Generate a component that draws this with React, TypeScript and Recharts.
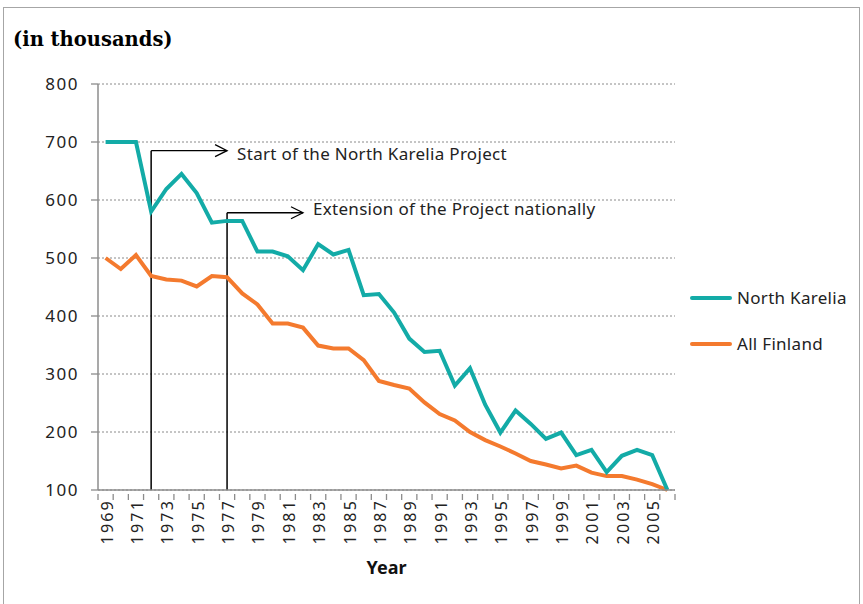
import React from 'react';
import {
  LineChart,
  Line,
  XAxis,
  YAxis,
  CartesianGrid,
  ReferenceLine,
} from 'recharts';

// years on the category axis
const years = [
  1969, 1970, 1971, 1972, 1973, 1974, 1975, 1976, 1977, 1978, 1979, 1980, 1981,
  1982, 1983, 1984, 1985, 1986, 1987, 1988, 1989, 1990, 1991, 1992, 1993, 1994,
  1995, 1996, 1997, 1998, 1999, 2000, 2001, 2002, 2003, 2004, 2005, 2006,
];

const northKarelia = [
  700, 700, 700, 580, 619, 645, 612, 561, 564, 564, 511, 511, 503, 479, 524,
  506, 514, 436, 438, 406, 361, 338, 340, 280, 310, 247, 199, 237, 214, 188,
  199, 160, 169, 131, 159, 169, 160, 100,
];

const allFinland = [
  500, 481, 505, 469, 463, 461, 451, 469, 467, 439, 420, 387, 387, 380, 349,
  344, 344, 324, 288, 281, 275, 251, 231, 220, 200, 186, 175, 163, 150, 144,
  137, 142, 130, 124, 124, 118, 110, 100,
];

const yTicks = [100, 200, 300, 400, 500, 600, 700, 800];

// annotation arrows: start year, end year, height, text
const startNK = { from: 1972, to: 1977, y: 685, text: 'Start of the North Karelia Project', dy: 3 };
const nationwide = { from: 1977, to: 1982, y: 578, text: 'Extension of the Project nationally', dy: -4 };

const data = years.map((year, i) => ({
  year,
  nk: northKarelia[i],
  fin: allFinland[i],
}));

const TEAL = '#13aba7';
const ORANGE = '#f47a2e';
const AXIS = '#8c8c8c';
const FONT = '"Noto Sans", "Open Sans", sans-serif';

const PLOT_LEFT = 98;
const PLOT_RIGHT = 675;
const HALF_BAND = (PLOT_RIGHT - PLOT_LEFT) / years.length / 2;

const YearTick = (props: any) => {
  const { x, y, payload, index } = props;
  const last = index === years.length - 1;
  return (
    <g>
      <line x1={x - HALF_BAND} x2={x - HALF_BAND} y1={y - 4} y2={y + 2} stroke={AXIS} strokeWidth={1.3} />
      {last && (
        <line x1={x + HALF_BAND} x2={x + HALF_BAND} y1={y - 4} y2={y + 2} stroke={AXIS} strokeWidth={1.3} />
      )}
      {index % 2 === 0 && (
        <text
          x={x + 1}
          y={y + 1}
          transform={`rotate(-90, ${x + 1}, ${y + 1})`}
          textAnchor="end"
          dominantBaseline="central"
          fontSize={16}
          letterSpacing={2.2}
          fill="#222"
          fontFamily={FONT}
        >
          {payload.value}
        </text>
      )}
    </g>
  );
};

const ArrowShape = (text: string, dy: number) => (props: any) => {
  const { x1, y1, x2, y2 } = props;
  return (
    <g>
      <line x1={x1} y1={y1} x2={x2} y2={y2} stroke="#000" strokeWidth={1.3} />
      <polyline
        points={`${x2 - 12},${y2 - 6} ${x2},${y2} ${x2 - 12},${y2 + 6}`}
        fill="none"
        stroke="#000"
        strokeWidth={1.3}
      />
      <text
        x={x2 + 10}
        y={y2 + dy}
        dominantBaseline="central"
        fontSize={17}
        letterSpacing={0.3}
        fill="#222"
        fontFamily={FONT}
      >
        {text}
      </text>
    </g>
  );
};

const VLine = (props: any) => {
  const { x1, y1, x2, y2 } = props;
  return <line x1={x1} y1={y1} x2={x2} y2={y2} stroke="#000" strokeWidth={1.5} />;
};

const legendItems = [
  { name: 'North Karelia', color: TEAL, top: 286 },
  { name: 'All Finland', color: ORANGE, top: 332 },
];

export default function App() {
  return (
    <div
      style={{
        position: 'absolute',
        left: 0,
        top: 0,
        width: 863,
        height: 604,
        background: '#fff',
        overflow: 'hidden',
        fontFamily: FONT,
      }}
    >
      <div
        style={{
          position: 'absolute',
          left: 3,
          top: 7,
          width: 855,
          height: 620,
          border: '1px solid #a6a6a6',
        }}
      />
      <div
        style={{
          position: 'absolute',
          left: 13,
          top: 28,
          fontFamily: '"DejaVu Serif", serif',
          fontWeight: 'bold',
          fontSize: 19.5,
          color: '#000',
        }}
      >
        (in thousands)
      </div>

      <LineChart
        width={863}
        height={604}
        data={data}
        margin={{ top: 84, right: 863 - PLOT_RIGHT, bottom: 0, left: 0 }}
      >
        <CartesianGrid vertical={false} stroke="#8a8a8a" strokeDasharray="2 2" />
        <XAxis
          dataKey="year"
          type="category"
          scale="band"
          interval={0}
          height={114}
          tickLine={false}
          axisLine={{ stroke: AXIS, strokeWidth: 1.5 }}
          tick={<YearTick />}
          label={{
            value: 'Year',
            position: 'insideBottom',
            offset: 30,
            fontSize: 18,
            fontWeight: 'bold',
            fill: '#111',
            fontFamily: FONT,
          }}
        />
        <YAxis
          width={PLOT_LEFT}
          domain={[100, 800]}
          ticks={yTicks}
          interval={0}
          tickSize={7}
          tickMargin={12}
          axisLine={{ stroke: AXIS, strokeWidth: 1.5 }}
          tickLine={{ stroke: AXIS, strokeWidth: 1.3 }}
          tick={{ fontSize: 17, fill: '#222', fontFamily: FONT, letterSpacing: 1.5 }}
        />
        <ReferenceLine
          segment={[{ x: startNK.from, y: 100 }, { x: startNK.from, y: startNK.y }]}
          shape={VLine}
          ifOverflow="visible"
        />
        <ReferenceLine
          segment={[{ x: nationwide.from, y: 100 }, { x: nationwide.from, y: nationwide.y }]}
          shape={VLine}
          ifOverflow="visible"
        />
        <Line
          type="linear"
          dataKey="fin"
          stroke={ORANGE}
          strokeWidth={4}
          dot={false}
          isAnimationActive={false}
          name="All Finland"
        />
        <Line
          type="linear"
          dataKey="nk"
          stroke={TEAL}
          strokeWidth={4}
          dot={false}
          isAnimationActive={false}
          name="North Karelia"
        />
        <ReferenceLine
          segment={[{ x: startNK.from, y: startNK.y }, { x: startNK.to, y: startNK.y }]}
          shape={ArrowShape(startNK.text, startNK.dy)}
          ifOverflow="visible"
        />
        <ReferenceLine
          segment={[{ x: nationwide.from, y: nationwide.y }, { x: nationwide.to, y: nationwide.y }]}
          shape={ArrowShape(nationwide.text, nationwide.dy)}
          ifOverflow="visible"
        />
      </LineChart>

      {legendItems.map((item) => (
        <div
          key={item.name}
          style={{
            position: 'absolute',
            left: 690,
            top: item.top,
            display: 'flex',
            alignItems: 'center',
            fontSize: 17,
            letterSpacing: 0.3,
            color: '#222',
          }}
        >
          <span
            style={{
              display: 'inline-block',
              width: 42,
              height: 4,
              borderRadius: 2,
              background: item.color,
              marginRight: 5,
            }}
          />
          {item.name}
        </div>
      ))}
    </div>
  );
}
